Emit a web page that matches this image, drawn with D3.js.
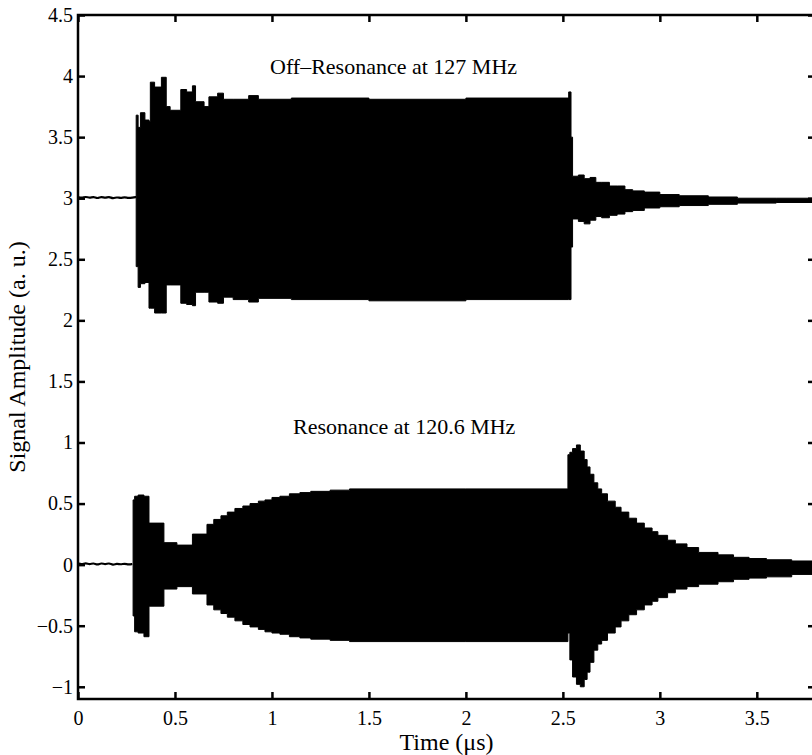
<!DOCTYPE html>
<html>
<head>
<meta charset="utf-8">
<script src="https://cdnjs.cloudflare.com/ajax/libs/d3/7.8.5/d3.min.js"></script>
<style>
  body { margin: 0; background: #fff; }
  svg { display: block; }
  text { font-family: "Liberation Serif", "Times New Roman", serif; fill: #000; }
  .tick line { stroke: #000; stroke-width: 2.5; }
  .tick text { font-size: 20px; }
</style>
</head>
<body>
<div id="chart"></div>
<script>
  // pre-trigger baseline (a small ripple)
  const preT    = [0, 0.02, 0.04, 0.06, 0.08, 0.10, 0.12, 0.14, 0.16, 0.18, 0.20, 0.22, 0.24, 0.26, 0.28, 0.30]
  const preOff  = [3.01, 3.0, 3.015, 3.0, 3.015, 2.995, 3.015, 3.0, 3.015, 2.995, 3.01, 3.0, 3.01, 3.0, 3.005, 3.01]
  const preRes  = [0.01, 0.0, 0.015, 0.0, 0.015, -0.005, 0.015, 0.0, 0.015, -0.005, 0.01, 0.0, 0.01, 0.0, 0.005]

  // off-resonance (127 MHz) envelope, each value holds until the next time
  const offT  = [0.300, 0.310, 0.322, 0.345, 0.366, 0.373, 0.395, 0.430, 0.455, 0.475, 0.530, 0.560, 0.590, 0.606, 0.650, 0.675, 0.720, 0.750, 0.800, 0.880, 0.930, 1.100, 1.500, 2.000, 2.530, 2.542, 2.550, 2.580, 2.610, 2.640, 2.670, 2.700, 2.740, 2.780, 2.820, 2.860, 2.920, 3.000, 3.100, 3.250, 3.400, 3.600, 3.800]
  const offHi = [3.68, 3.58, 3.70, 3.64, 3.63, 3.95, 3.91, 3.99, 3.75, 3.72, 3.89, 3.87, 3.92, 3.79, 3.75, 3.83, 3.86, 3.81, 3.81, 3.84, 3.81, 3.82, 3.81, 3.82, 3.87, 3.50, 3.18, 3.19, 3.16, 3.17, 3.13, 3.13, 3.10, 3.10, 3.07, 3.06, 3.05, 3.03, 3.02, 3.01, 3.00, 3.00, 2.995]
  const offLo = [2.44, 2.27, 2.30, 2.31, 2.10, 2.10, 2.06, 2.06, 2.29, 2.29, 2.14, 2.13, 2.12, 2.23, 2.23, 2.15, 2.14, 2.19, 2.17, 2.15, 2.18, 2.17, 2.16, 2.17, 2.17, 2.60, 2.83, 2.81, 2.79, 2.82, 2.85, 2.84, 2.86, 2.87, 2.89, 2.90, 2.92, 2.93, 2.94, 2.95, 2.96, 2.965, 2.965]

  // resonance (120.6 MHz) envelope
  const resT  = [0.284, 0.292, 0.310, 0.340, 0.366, 0.443, 0.510, 0.590, 0.665, 0.700, 0.737, 0.770, 0.809, 0.850, 0.887, 0.930, 0.964, 1.000, 1.041, 1.090, 1.144, 1.200, 1.300, 1.400, 2.000, 2.526, 2.536, 2.550, 2.570, 2.590, 2.610, 2.625, 2.640, 2.660, 2.680, 2.700, 2.730, 2.770, 2.800, 2.840, 2.880, 2.920, 2.960, 2.990, 3.040, 3.080, 3.140, 3.200, 3.300, 3.380, 3.460, 3.550, 3.680, 3.800]
  const resHi = [0.53, 0.56, 0.57, 0.56, 0.34, 0.18, 0.16, 0.25, 0.33, 0.37, 0.40, 0.43, 0.46, 0.48, 0.50, 0.52, 0.53, 0.55, 0.56, 0.58, 0.59, 0.60, 0.61, 0.62, 0.62, 0.90, 0.92, 0.95, 0.98, 0.93, 0.86, 0.80, 0.74, 0.67, 0.62, 0.58, 0.52, 0.47, 0.43, 0.38, 0.34, 0.30, 0.27, 0.24, 0.20, 0.17, 0.14, 0.10, 0.08, 0.06, 0.05, 0.04, 0.03, 0.02]
  const resLo = [-0.42, -0.55, -0.56, -0.59, -0.34, -0.20, -0.18, -0.24, -0.33, -0.37, -0.40, -0.43, -0.46, -0.49, -0.51, -0.53, -0.55, -0.56, -0.57, -0.59, -0.60, -0.61, -0.62, -0.63, -0.63, -0.56, -0.78, -0.92, -0.98, -1.00, -0.94, -0.88, -0.80, -0.70, -0.65, -0.62, -0.56, -0.51, -0.46, -0.41, -0.37, -0.33, -0.30, -0.27, -0.23, -0.20, -0.18, -0.16, -0.14, -0.12, -0.11, -0.10, -0.08, -0.07]

  const xTicks = [0, 0.5, 1, 1.5, 2, 2.5, 3, 3.5]
  const yTicks = [-1, -0.5, 0, 0.5, 1, 1.5, 2, 2.5, 3, 3.5, 4, 4.5]

  const width = 812, height = 755
  const margin = { top: 15, right: -3, bottom: 56, left: 78 }

  const svg = d3.select('#chart')
      .append('svg')
      .attr('width', width)
      .attr('height', height)

  const x = d3.scaleLinear()
      .domain([0, 3.8])
      .range([margin.left, width - margin.right])
  const y = d3.scaleLinear()
      .domain([-1.1, 4.5])
      .range([height - margin.bottom, margin.top])

  const fmt = d3.format('')

  // envelopes, filled black (the carrier is far too dense to resolve)
  const area = d3.area()
      .x(d => x(d[0]))
      .y0(d => y(d[2]))
      .y1(d => y(d[1]))
      .curve(d3.curveStepAfter)

  svg.append('path')
      .datum(offT.map((t, i) => [t, offHi[i], offLo[i]]))
      .attr('d', area)
      .attr('fill', '#000')
      .attr('stroke', '#000')
      .attr('stroke-width', 1)

  svg.append('path')
      .datum(resT.map((t, i) => [t, resHi[i], resLo[i]]))
      .attr('d', area)
      .attr('fill', '#000')
      .attr('stroke', '#000')
      .attr('stroke-width', 1)

  const line = d3.line()
      .x(d => x(d[0]))
      .y(d => y(d[1]))
      .curve(d3.curveBasis)

  svg.append('path')
      .datum(preT.map((t, i) => [t, preOff[i]]))
      .attr('d', line)
      .attr('fill', 'none')
      .attr('stroke', '#000')
      .attr('stroke-width', 2.2)

  svg.append('path')
      .datum(preT.slice(0, preRes.length).map((t, i) => [t, preRes[i]]))
      .attr('d', line)
      .attr('fill', 'none')
      .attr('stroke', '#000')
      .attr('stroke-width', 2.2)

  // axes, ticks pointing inwards on all four sides
  svg.append('g')
      .attr('transform', 'translate(0,' + (height - margin.bottom) + ')')
      .call(d3.axisBottom(x).tickValues(xTicks).tickFormat(fmt).tickSize(-7).tickPadding(12))
  svg.append('g')
      .attr('transform', 'translate(0,' + margin.top + ')')
      .call(d3.axisTop(x).tickValues(xTicks).tickFormat('').tickSize(-7))
  svg.append('g')
      .attr('transform', 'translate(' + margin.left + ',0)')
      .call(d3.axisLeft(y).tickValues(yTicks).tickFormat(fmt).tickSize(-7).tickPadding(5))
  svg.append('g')
      .attr('transform', 'translate(' + (width - margin.right) + ',0)')
      .call(d3.axisRight(y).tickValues(yTicks).tickFormat('').tickSize(-7))

  svg.selectAll('.domain').remove()
  svg.selectAll('.tick text').attr('font-family', null).attr('font-size', null)

  svg.append('rect')
      .attr('x', margin.left)
      .attr('y', margin.top)
      .attr('width', width - margin.right - margin.left)
      .attr('height', height - margin.bottom - margin.top)
      .attr('fill', 'none')
      .attr('stroke', '#000')
      .attr('stroke-width', 2.5)

  // labels
  svg.append('text')
      .attr('x', 270)
      .attr('y', 74)
      .style('font-size', '22px')
      .text('Off\u2013Resonance at 127 MHz')

  svg.append('text')
      .attr('x', 293)
      .attr('y', 434)
      .style('font-size', '22px')
      .text('Resonance at 120.6 MHz')

  svg.append('text')
      .attr('x', (margin.left + width - margin.right) / 2)
      .attr('y', 750)
      .attr('text-anchor', 'middle')
      .style('font-size', '24px')
      .text('Time (\u03bcs)')

  svg.append('text')
      .attr('transform', 'translate(25,' + (margin.top + height - margin.bottom) / 2 + ') rotate(-90)')
      .attr('text-anchor', 'middle')
      .style('font-size', '24px')
      .text('Signal Amplitude (a. u.)')
</script>
</body>
</html>
